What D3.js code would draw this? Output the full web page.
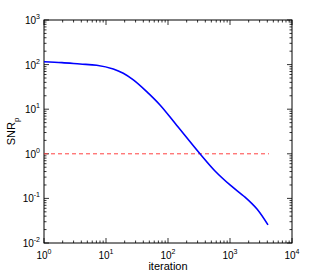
<!DOCTYPE html>
<html>
<head>
<meta charset="utf-8">
<script src="https://cdn.jsdelivr.net/npm/d3@7"></script>
<style>
  body { margin: 0; background: #fff; }
  text { font-family: "Liberation Sans", Arial, sans-serif; fill: #000; }
</style>
</head>
<body>
<div id="chart"></div>
<script>
// SNR_p versus iteration, log-log
const iterations = [1, 1.95, 3.81, 7.08, 13.1, 19.0, 27.6, 45.3, 74.3, 130, 328, 573, 1000, 1746, 2725, 4100];
const snrValues  = [116, 111, 103, 96.4, 79.6, 63.8, 45.2, 24.7, 12.4, 4.83, 1.0, 0.411, 0.2, 0.107, 0.0578, 0.0254];
const refLevel   = 1;
const refEnd     = 4250;
const xTickExps  = [0, 1, 2, 3, 4];
const yTickExps  = [-2, -1, 0, 1, 2, 3];

const W = 323, H = 273;
const m = { left: 44, right: 31, top: 20, bottom: 30 };

const svg = d3.select('#chart').append('svg').attr('width', W).attr('height', H);

const x = d3.scaleLog().domain([1, 1e4]).range([m.left, W - m.right]);
const y = d3.scaleLog().domain([1e-2, 1e3]).range([H - m.bottom, m.top]);

const x0 = x.range()[0], x1 = x.range()[1];
const y0 = y.range()[0], y1 = y.range()[1];

// ── ticks (inward, all four sides) ──────────────────────────────────────────
const tk = svg.append('g').attr('stroke', '#000').attr('stroke-width', 0.8);
function minorList(lo, hi) {
  const out = [];
  for (let e = lo; e < hi; e++) for (let k = 1; k <= 9; k++) out.push(k * Math.pow(10, e));
  out.push(Math.pow(10, hi));
  return out;
}
minorList(0, 4).forEach(v => {
  const major = xTickExps.some(e => Math.abs(Math.pow(10, e) - v) < 1e-9);
  const len = major ? 5 : 2.5;
  tk.append('line').attr('x1', x(v)).attr('x2', x(v)).attr('y1', y0).attr('y2', y0 - len);
  tk.append('line').attr('x1', x(v)).attr('x2', x(v)).attr('y1', y1).attr('y2', y1 + len);
});
minorList(-2, 3).forEach(v => {
  const major = yTickExps.some(e => Math.abs(Math.pow(10, e) - v) < 1e-12);
  const len = major ? 5 : 2.5;
  tk.append('line').attr('y1', y(v)).attr('y2', y(v)).attr('x1', x0).attr('x2', x0 + len);
  tk.append('line').attr('y1', y(v)).attr('y2', y(v)).attr('x1', x1).attr('x2', x1 - len);
});

// box
svg.append('rect')
  .attr('x', x0).attr('y', y1).attr('width', x1 - x0).attr('height', y0 - y1)
  .attr('fill', 'none').attr('stroke', '#000').attr('stroke-width', 1);

// tick labels
xTickExps.forEach(e => {
  const t = svg.append('text').attr('x', x(Math.pow(10, e))).attr('y', y0 + 16)
    .attr('text-anchor', 'middle').attr('font-size', 10);
  t.append('tspan').text('10');
  t.append('tspan').attr('dy', -5).attr('font-size', 7).text(e);
});
yTickExps.forEach(e => {
  const t = svg.append('text').attr('x', x0 - 4).attr('y', y(Math.pow(10, e)) + 4)
    .attr('text-anchor', 'end').attr('font-size', 10);
  t.append('tspan').text('10');
  t.append('tspan').attr('dy', -5).attr('font-size', 7).text(e);
});

// axis labels
svg.append('text').attr('x', (x0 + x1) / 2).attr('y', H - 3)
  .attr('text-anchor', 'middle').attr('font-size', 11).text('iteration');
const yl = svg.append('text')
  .attr('transform', `translate(15,${(y0 + y1) / 2}) rotate(-90)`)
  .attr('text-anchor', 'middle').attr('font-size', 11);
yl.append('tspan').text('SNR');
yl.append('tspan').attr('dy', 4).attr('font-size', 8).text('p');

// reference line
svg.append('line')
  .attr('x1', x(1)).attr('x2', x(refEnd)).attr('y1', y(refLevel)).attr('y2', y(refLevel))
  .attr('stroke', '#ff4040').attr('stroke-width', 1).attr('stroke-dasharray', '4,3');

// curve
const line = d3.line()
  .x((d, i) => x(iterations[i]))
  .y(d => y(d))
  .curve(d3.curveCatmullRom);
svg.append('path').datum(snrValues)
  .attr('d', line)
  .attr('fill', 'none').attr('stroke', '#0000ff').attr('stroke-width', 1.6);
</script>
</body>
</html>
